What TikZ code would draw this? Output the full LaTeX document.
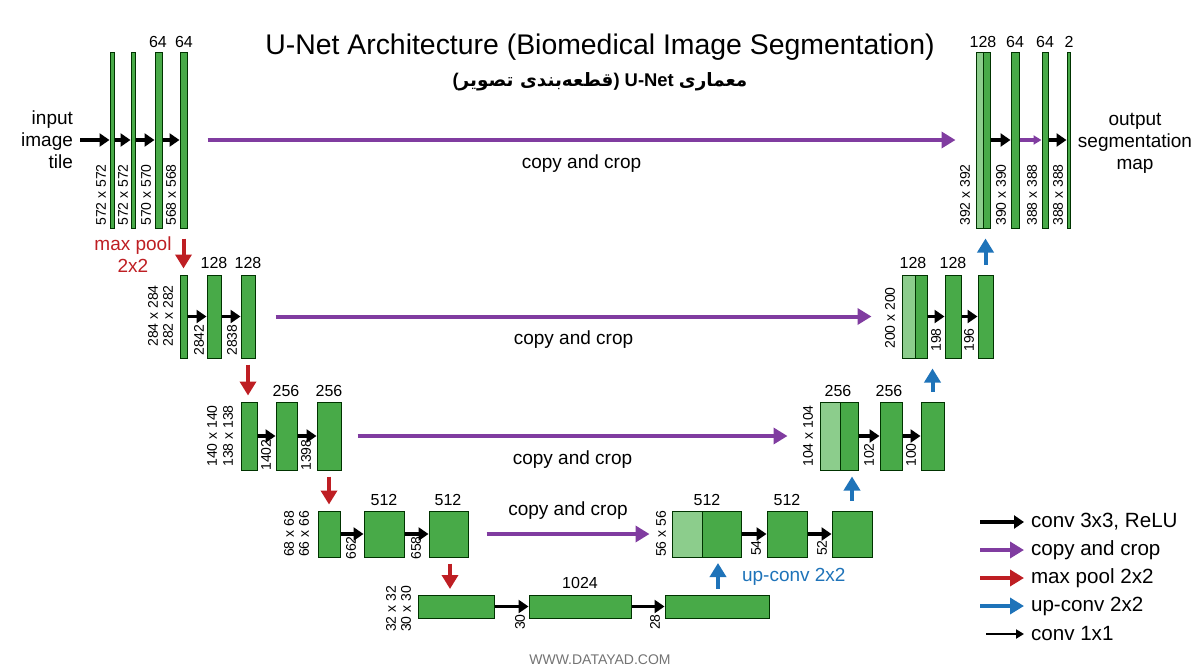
\documentclass[tikz,border=0pt]{standalone}
\usepackage{fontspec}
\setmainfont{Liberation Sans}
\newfontfamily\arfont[Script=Arabic]{DejaVu Sans}
\usetikzlibrary{arrows.meta,fit}
\TeXXeTstate=1
\definecolor{gr}{RGB}{72,170,72}
\definecolor{lgr}{RGB}{140,205,140}
\definecolor{pur}{RGB}{128,60,160}
\definecolor{rd}{RGB}{190,30,35}
\definecolor{bl}{RGB}{30,115,185}
\tikzset{
 bar/.style={draw=black!80!green,line width=0.5pt,fill=gr,inner sep=0pt},
 lbar/.style={bar,fill=lgr},
 conv/.style={line width=1.6pt,-{Triangle[length=5pt,width=6.5pt]},black},
 copy/.style={line width=2pt,-{Triangle[length=7pt,width=8pt]},pur},
 pool/.style={line width=2pt,-{Triangle[length=7pt,width=8pt]},rd},
 up/.style={line width=2pt,-{Triangle[length=7pt,width=8pt]},bl},
 one/.style={line width=1pt,-{Triangle[length=4pt,width=4.5pt]},black},
 dim/.style={rotate=90,font=\fontsize{7}{7}\selectfont},
 ch/.style={font=\fontsize{8}{9}\selectfont},
 cc/.style={font=\fontsize{9.5}{10}\selectfont},
}
\newcommand\blk[6][bar]{\node[#1,fit={(#3,#4)(#5,#6)}] (#2) {};}
\begin{document}
\begin{tikzpicture}[x=0.5pt,y=-0.5pt]
\useasboundingbox (0,0) rectangle (1200,669);
% title
\node (title) at (600,47) {\fontsize{14.2}{15}\selectfont U-Net Architecture (Biomedical Image Segmentation)};
\node (sub) at (600,82) {\fontsize{9.2}{10}\selectfont\bfseries {(}{\arfont\beginR قطعه‌بندی تصویر\endR}{)} U-Net {\arfont\beginR معماری\endR}};
% ---------- level 1 left
\blk{a1}{110}{52}{114}{228}
\blk{a2}{131}{52}{135}{228}
\blk{a3}{155}{52}{162}{228}
\blk{a4}{180}{52}{187}{228}
\node[ch] (t1) at (158,42) {64};
\node[ch] (t2) at (184,42) {64};
\node[align=right,anchor=east,font=\fontsize{9.5}{11}\selectfont] (inp) at (80,140) {input\\image\\tile};
\draw[conv] (inp.east) -- (a1.west);
\draw[conv] (a1.east) -- (a2.west);
\draw[conv] (a2.east) -- (a3.west);
\draw[conv] (a3.east) -- (a4.west);
\node[dim] (d1) at (101,195) {572 x 572};
\node[dim] (d2) at (123,195) {572 x 572};
\node[dim] (d3) at (146,195) {570 x 570};
\node[dim] (d4) at (171,195) {568 x 568};
% ---------- level 1 right
\blk[lbar]{p1}{976}{52}{983}{228}
\blk{p2}{983}{52}{990}{228}
\blk{p3}{1011}{52}{1019}{228}
\blk{p4}{1042}{52}{1048}{228}
\blk{p5}{1067}{52}{1070}{228}
\node[ch] (t3) at (983,42) {128};
\node[ch] (t4) at (1015,42) {64};
\node[ch] (t5) at (1045,42) {64};
\node[ch] (t6) at (1069,42) {2};
\draw[conv] (p2.east) -- (p3.west);
\draw[one,pur,line width=1.6pt] (p3.east) -- (p4.west);
\draw[conv] (p4.east) -- (p5.west);
\node[dim] (d5) at (965,195) {392 x 392};
\node[dim] (d6) at (1001,195) {390 x 390};
\node[dim] (d7) at (1032,195) {388 x 388};
\node[dim] (d8) at (1058,195) {388 x 388};
\node[align=center,font=\fontsize{9.5}{11}\selectfont] (outp) at (1135,143) {output\\segmentation\\map};
\draw[copy] ([xshift=10pt]a4.east) -- ([xshift=-10pt]p1.west) node[midway,below=3pt,cc,black] {copy and crop};
% ---------- level 2 left
\blk{b1}{180}{275}{187}{358}
\blk{b2}{207}{275}{221}{358}
\blk{b3}{241}{275}{255}{358}
\node[ch] (t7) at (214,263) {128};
\node[ch] (t8) at (248,263) {128};
\draw[conv] (b1.east) -- (b2.west);
\draw[conv] (b2.east) -- (b3.west);
\node[dim] (d9) at (153,316) {284 x 284};
\node[dim] (d10) at (168,316) {282 x 282};
\node[dim] (d11) at (199,340) {2842};
\node[dim] (d12) at (232,340) {2838};
\draw[pool] ([yshift=-5pt]a4.south) -- ([yshift=3pt]a4.south|-b1.north);
\node[align=center,text=rd,font=\fontsize{9.5}{11}\selectfont] (mp) at (133,255) {max pool\\2x2};
% ---------- level 2 right
\blk[lbar]{q1}{902}{275}{915}{358}
\blk{q2}{915}{275}{927}{358}
\blk{q3}{945}{275}{961}{358}
\blk{q4}{978}{275}{993}{358}
\node[ch] (t9) at (913,263) {128};
\node[ch] (t10) at (953,263) {128};
\draw[conv] (q2.east) -- (q3.west);
\draw[conv] (q3.east) -- (q4.west);
\node[dim] (d13) at (890,318) {200 x 200};
\node[dim] (d14) at (936,340) {198};
\node[dim] (d15) at (969,340) {196};
\draw[up] ([yshift=5pt]q4.north) -- ([yshift=-5pt]q4.north|-p2.south);
\draw[copy] ([xshift=10pt]b3.east) -- ([xshift=-15pt]q1.west) node[midway,below=3pt,cc,black] {copy and crop};
% ---------- level 3 left
\blk{c1}{241}{402}{257}{470}
\blk{c2}{276}{402}{297}{470}
\blk{c3}{317}{402}{341}{470}
\node[ch] (t11) at (286,391) {256};
\node[ch] (t12) at (329,391) {256};
\draw[conv] (c1.east) -- (c2.west);
\draw[conv] (c2.east) -- (c3.west);
\node[dim] (d16) at (212,436) {140 x 140};
\node[dim] (d17) at (228,436) {138 x 138};
\node[dim] (d18) at (266,455) {1402};
\node[dim] (d19) at (306,455) {1398};
\draw[pool] ([yshift=-3pt]b3.south) -- ([yshift=3pt]b3.south|-c1.north);
% ---------- level 3 right
\blk[lbar]{r1}{820}{402}{840}{470}
\blk{r2}{840}{402}{858}{470}
\blk{r3}{880}{402}{902}{470}
\blk{r4}{921}{402}{944}{470}
\node[ch] (t13) at (838,391) {256};
\node[ch] (t14) at (889,391) {256};
\draw[conv] (r2.east) -- (r3.west);
\draw[conv] (r3.east) -- (r4.west);
\node[dim] (d20) at (808,436) {104 x 104};
\node[dim] (d21) at (869,455) {102};
\node[dim] (d22) at (911,455) {100};
\draw[up] ([yshift=5pt]r4.north) -- ([yshift=-5pt]r4.north|-q4.south);
\draw[copy] ([xshift=8pt]c3.east) -- ([xshift=-16pt]r1.west) node[midway,below=3pt,cc,black] {copy and crop};
% ---------- level 4 left
\blk{e1}{318}{511}{340}{557}
\blk{e2}{364}{511}{404}{557}
\blk{e3}{429}{511}{468}{557}
\node[ch] (t15) at (384,500) {512};
\node[ch] (t16) at (448,500) {512};
\draw[conv] (e1.east) -- (e2.west);
\draw[conv] (e2.east) -- (e3.west);
\node[dim] (d23) at (289,534) {68 x 68};
\node[dim] (d24) at (304,534) {66 x 66};
\node[dim] (d25) at (351,548) {662};
\node[dim] (d26) at (416,548) {658};
\draw[pool] ([yshift=-3pt]c3.south) -- ([yshift=3pt]c3.south|-e1.north);
% ---------- level 4 right
\blk[lbar]{s1}{672}{511}{702}{557}
\blk{s2}{702}{511}{741}{557}
\blk{s3}{767}{511}{807}{557}
\blk{s4}{832}{511}{872}{557}
\node[ch] (t17) at (707,500) {512};
\node[ch] (t18) at (787,500) {512};
\draw[conv] (s2.east) -- (s3.west);
\draw[conv] (s3.east) -- (s4.west);
\node[dim] (d27) at (661,534) {56 x 56};
\node[dim] (d28) at (756,548) {54};
\node[dim] (d29) at (822,548) {52};
\draw[up] ([yshift=5pt]s4.north) -- ([yshift=-3pt]s4.north|-r2.south);
\draw[copy] ([xshift=9pt]e3.east) -- ([xshift=-11pt]s1.west) node[midway,above=3pt,cc,black] {copy and crop};
% ---------- level 5
\blk{f1}{418}{595}{494}{618}
\blk{f2}{529}{595}{631}{618}
\blk{f3}{665}{595}{769}{618}
\node[ch] (t19) at (580,583) {1024};
\draw[conv] (f1.east) -- (f2.west);
\draw[conv] (f2.east) -- (f3.west);
\node[dim] (d30) at (391,609) {32 x 32};
\node[dim] (d31) at (406,609) {30 x 30};
\node[dim] (d32) at (520,622) {30};
\node[dim] (d33) at (655,622) {28};
\draw[pool] ([yshift=-3pt]e3.south-|450,0) -- ([yshift=3pt]450,595);
\draw[up] ([yshift=3pt]f3.north-|718,0) -- ([yshift=-3pt]718,557);
\node[anchor=west,text=bl,font=\fontsize{9.5}{10}\selectfont] (uc) at (735,577) {up-conv 2x2};
% ---------- legend
\tikzset{lg/.style={anchor=west,font=\fontsize{10.3}{11}\selectfont}}
\node[lg] (l1) at (1024,522) {conv 3x3, ReLU};
\node[lg] (l2) at (1024,550) {copy and crop};
\node[lg] (l3) at (1024,578) {max pool 2x2};
\node[lg] (l4) at (1024,606) {up-conv 2x2};
\node[lg] (l5) at (1024,634) {conv 1x1};
\coordinate (m1) at (980,522); \coordinate (m2) at (980,550);
\coordinate (m3) at (980,578); \coordinate (m4) at (980,606);
\coordinate (m5) at (986,634);
\draw[conv,line width=2pt] (m1) -- (l1.west);
\draw[copy] (m2) -- (l2.west);
\draw[pool] (m3) -- (l3.west);
\draw[up] (m4) -- (l4.west);
\draw[one] (m5) -- (l5.west);
\node[text=black!55,font=\fontsize{7}{8}\selectfont] (web) at (600,660) {WWW.DATAYAD.COM};
\end{tikzpicture}
\end{document}
